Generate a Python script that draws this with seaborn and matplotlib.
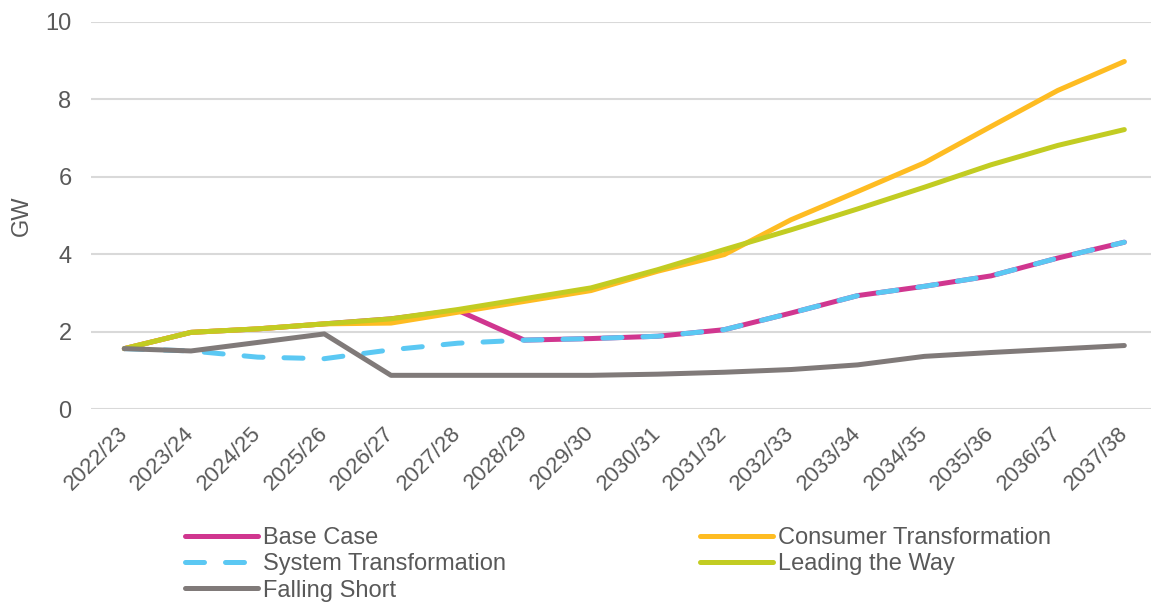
import matplotlib
matplotlib.use("Agg")
import matplotlib.pyplot as plt
import numpy as np
import pandas as pd
import seaborn as sns

years = ["2022/23", "2023/24", "2024/25", "2025/26", "2026/27", "2027/28",
         "2028/29", "2029/30", "2030/31", "2031/32", "2032/33", "2033/34",
         "2034/35", "2035/36", "2036/37", "2037/38"]

base_case = [1.56, 1.98, 2.07, 2.20, 2.33, 2.55, 1.78, 1.82,
             1.88, 2.05, 2.48, 2.93, 3.17, 3.44, 3.90, 4.31]
consumer_transformation = [1.56, 1.98, 2.07, 2.20, 2.22, 2.50, 2.78, 3.06,
                           3.56, 3.99, 4.89, 5.62, 6.36, 7.30, 8.23, 8.98]
system_transformation = [1.56, 1.50, 1.34, 1.30, 1.53, 1.70, 1.78, 1.82,
                         1.88, 2.05, 2.48, 2.93, 3.17, 3.44, 3.90, 4.31]
leading_the_way = [1.56, 1.98, 2.07, 2.20, 2.33, 2.57, 2.85, 3.13,
                   3.60, 4.12, 4.63, 5.17, 5.73, 6.31, 6.81, 7.22]
falling_short = [1.56, 1.50, 1.72, 1.94, 0.87, 0.87, 0.87, 0.87,
                 0.90, 0.95, 1.02, 1.14, 1.36, 1.46, 1.55, 1.64]

series_names = ["Base Case", "Consumer Transformation", "System Transformation",
                "Leading the Way", "Falling Short"]
series_values = [base_case, consumer_transformation, system_transformation,
                 leading_the_way, falling_short]
colors = {
    "Base Case": "#D0368F",
    "Consumer Transformation": "#FEBC22",
    "System Transformation": "#5BC8F3",
    "Leading the Way": "#C2CC22",
    "Falling Short": "#807A79",
}

df = pd.DataFrame({
    "year": np.tile(years, len(series_names)),
    "x": np.tile(np.arange(len(years)), len(series_names)),
    "GW": np.concatenate(series_values),
    "scenario": np.repeat(series_names, len(years)),
})

sns.set_theme(style="white")
plt.rcParams["font.family"] = ["Liberation Sans", "DejaVu Sans"]
text_color = "#595959"

fig = plt.figure(figsize=(11.51, 6.03), dpi=100)
ax = fig.add_axes([91 / 1151, 1 - 409 / 603, 1 - 91 / 1151, 387 / 603])

lw = 3.6
handles = {}
for z, name in enumerate(series_names):
    sub = df[df["scenario"] == name]
    sns.lineplot(data=sub, x="x", y="GW", ax=ax, color=colors[name],
                 linewidth=lw, zorder=3 + z, legend=False, sort=False)
    line = ax.get_lines()[-1]
    line.set_solid_capstyle("round")
    line.set_solid_joinstyle("round")
    if name == "System Transformation":
        line.set_linestyle((0, (3.8, 4.2)))
        line.set_dash_capstyle("round")
    handles[name] = line

ax.set_xlim(-0.5, 15.4)
ax.set_ylim(0, 10)
ax.set_yticks([0, 2, 4, 6, 8, 10])
ax.set_xticks(range(len(years)))
ax.set_xticklabels(years, rotation=45, ha="right", va="center",
                   rotation_mode="anchor")
ax.tick_params(axis="x", length=0, pad=15, labelsize=16, labelcolor=text_color)
ax.tick_params(axis="y", length=0, pad=14, labelsize=17, labelcolor=text_color)
ax.yaxis.grid(True, color="#D9D9D9", linewidth=1.5)
ax.xaxis.grid(False)
for s in ax.spines.values():
    s.set_visible(False)
ax.set_xlabel("")
ax.set_ylabel("GW", fontsize=17, color=text_color)
ax.yaxis.set_label_coords(-0.055, 0.5)

leg_kw = dict(frameon=False, fontsize=17, handlelength=3.1, handletextpad=0.2,
              labelspacing=0.18, borderpad=0, borderaxespad=0,
              loc="upper left")
left_names = ["Base Case", "System Transformation", "Falling Short"]
right_names = ["Consumer Transformation", "Leading the Way"]
leg1 = fig.legend([handles[n] for n in left_names], left_names,
                  bbox_to_anchor=(185 / 1151, 1 - 527 / 603), **leg_kw)
leg2 = fig.legend([handles[n] for n in right_names], right_names,
                  bbox_to_anchor=(700 / 1151, 1 - 527 / 603), **leg_kw)
for leg in (leg1, leg2):
    for t in leg.get_texts():
        t.set_color(text_color)

fig.savefig("out.png", dpi=100)
